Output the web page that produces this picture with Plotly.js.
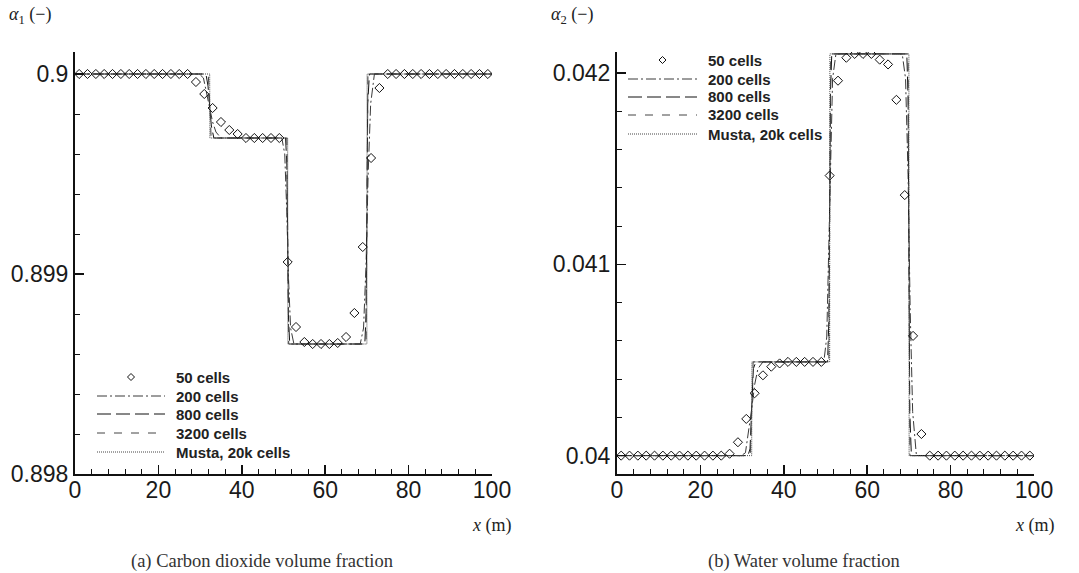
<!DOCTYPE html>
<html>
<head>
<meta charset="utf-8">
<script src="https://cdn.plot.ly/plotly-3.0.1.min.js"></script>
<style>html,body{margin:0;padding:0;background:#fff;}#chart{width:1079px;height:573px;}</style>
</head>
<body>
<div id="chart"></div>
<script>
// ---------------- data ----------------
const seriesNames = ["50 cells", "200 cells", "800 cells", "3200 cells", "Musta, 20k cells"];
const xTickVals = [0, 20, 40, 60, 80, 100];

// 50-cell cell centres
const x50 = [1,3,5,7,9,11,13,15,17,19,21,23,25,27,29,31,33,35,37,39,41,43,45,47,49,
             51,53,55,57,59,61,63,65,67,69,71,73,75,77,79,81,83,85,87,89,91,93,95,97,99];
// (a) carbon dioxide volume fraction, 50 cells
const a1_50 = [0.9,0.9,0.9,0.9,0.9,0.9,0.9,0.9,0.9,0.9,0.9,0.9,0.9,0.9,
               0.89996,0.8999,0.89983,0.89976,0.89972,0.8997,
               0.89968,0.89968,0.89968,0.89968,0.89968,
               0.89906,0.898735,0.89866,0.89865,0.89865,0.89865,0.898655,0.898685,0.898805,0.899135,0.89958,0.89993,
               0.9,0.9,0.9,0.9,0.9,0.9,0.9,0.9,0.9,0.9,0.9,0.9,0.9];
// (b) water volume fraction, 50 cells
const a2_50 = [0.04,0.04,0.04,0.04,0.04,0.04,0.04,0.04,0.04,0.04,0.04,0.04,0.04,
               0.04001,0.04007,0.040192,0.040326,0.04042,0.040465,0.040482,
               0.04049,0.04049,0.04049,0.04049,0.04049,
               0.041464,0.04196,0.04208,0.0421,0.0421,0.0421,0.04207,0.042045,0.04186,0.041362,0.040626,0.040113,
               0.04,0.04,0.04,0.04,0.04,0.04,0.04,0.04,0.04,0.04,0.04,0.04,0.04];

// 200 cells
const x200  = [0,29.8,30.8,31.6,32.3,33.0,33.8,35.0,49.6,50.3,50.8,51.2,51.7,52.5,68.4,69.2,69.8,70.3,70.9,71.8,100];
const a1_200 = [0.9,0.9,0.89998,0.8999,0.89984,0.89976,0.89971,0.89968,0.89968,0.8996,0.8993,0.89898,0.89873,0.89865,0.89865,0.89873,0.89905,0.8995,0.89985,0.9,0.9];
const a2_200 = [0.04,0.04,0.040015,0.04013,0.040245,0.04037,0.040455,0.04049,0.04049,0.04062,0.04109,0.0416,0.04197,0.0421,0.0421,0.04197,0.04147,0.04077,0.04023,0.04,0.04];

// 800 cells
const x800  = [0,31.4,31.9,32.3,32.7,33.3,50.5,50.8,51.0,51.2,51.5,69.5,69.8,70.0,70.2,70.6,100];
const a1_800 = [0.9,0.9,0.89994,0.89984,0.89974,0.89968,0.89968,0.89955,0.89916,0.89878,0.89865,0.89865,0.8988,0.89932,0.89985,0.9,0.9];
const a2_800 = [0.04,0.04,0.040035,0.040245,0.040455,0.04049,0.04049,0.0407,0.0413,0.0419,0.0421,0.0421,0.04187,0.04105,0.04023,0.04,0.04];

// 3200 cells
const x3200  = [0,31.95,32.2,32.45,32.65,50.8,50.95,51.1,51.25,69.8,69.95,70.1,70.25,100];
const a1_3200 = [0.9,0.9,0.89991,0.89977,0.89968,0.89968,0.89934,0.89899,0.89865,0.89865,0.8991,0.89955,0.9,0.9];
const a2_3200 = [0.04,0.04,0.040147,0.040343,0.04049,0.04049,0.04103,0.04156,0.0421,0.0421,0.0414,0.0407,0.04,0.04];

// Musta, 20k cells
const xMusta  = [0,32.3,32.35,51.0,51.05,70.0,70.05,100];
const a1_Musta = [0.9,0.9,0.89968,0.89968,0.89865,0.89865,0.9,0.9];
const a2_Musta = [0.04,0.04,0.04049,0.04049,0.0421,0.0421,0.04,0.04];

// ---------------- styling ----------------
const lineStyles = {
  "200 cells":        {color: "#3a3a3a", width: 1, dash: "10px,3px,2px,3px"},
  "800 cells":        {color: "#111", width: 1, dash: "14px,5px"},
  "3200 cells":       {color: "#444", width: 1, dash: "8px,9px"},
  "Musta, 20k cells": {color: "#444", width: 1, dash: "1px,1px"}
};
const markerStyle = {symbol: "diamond-open", size: 7, color: "#111", line: {width: 1, color: "#111"}};

function panel(xa, ya, y50, y200, y800, y3200, yMusta) {
  const lines = [
    [seriesNames[1], x200, y200],
    [seriesNames[2], x800, y800],
    [seriesNames[3], x3200, y3200],
    [seriesNames[4], xMusta, yMusta]
  ].map(([name, xs, ys]) => ({
    type: "scatter", mode: "lines", name: name, x: xs, y: ys,
    xaxis: xa, yaxis: ya, line: lineStyles[name], hoverinfo: "skip", showlegend: false
  }));
  const pts = {
    type: "scatter", mode: "markers", name: seriesNames[0], x: x50, y: y50,
    xaxis: xa, yaxis: ya, marker: markerStyle, hoverinfo: "skip", showlegend: false
  };
  return lines.concat([pts]);
}

const data = []
  .concat(panel("x", "y", a1_50, a1_200, a1_800, a1_3200, a1_Musta))
  .concat(panel("x2", "y2", a2_50, a2_200, a2_800, a2_3200, a2_Musta));

const W = 1079, H = 573;
const tickFont = {family: "Liberation Sans, Arial, sans-serif", size: 23, color: "#1a1a1a"};
function xAxis(left, right) {
  return {
    domain: [left / W, right / W], range: [0, 100], tickvals: xTickVals,
    ticks: "inside", ticklen: 9, tickwidth: 1.5, tickcolor: "#111",
    minor: {dtick: 4, tick0: 0, ticks: "inside", ticklen: 5, tickwidth: 1, tickcolor: "#111"},
    showline: true, linewidth: 2, linecolor: "#111", showgrid: false, zeroline: false,
    tickfont: tickFont, ticklabelstandoff: -6, fixedrange: true
  };
}
function yAxis(range, tick0, anchor) {
  return {
    domain: [(H - 474) / H, (H - 52) / H], range: range, tick0: tick0, dtick: 0.001,
    ticks: "inside", ticklen: 9, tickwidth: 1.5, tickcolor: "#111",
    minor: {dtick: 0.0002, tick0: tick0, ticks: "inside", ticklen: 5, tickwidth: 1, tickcolor: "#111"},
    showline: true, linewidth: 2, linecolor: "#111", showgrid: false, zeroline: false,
    tickfont: tickFont, anchor: anchor, fixedrange: true
  };
}

// ---------------- hand-made legends (one per panel) ----------------
const legendText = {family: "Liberation Sans, Arial, sans-serif", size: 15, color: "#222"};
const serif = "Liberation Serif, Times New Roman, serif";
const shapes = [];
const annotations = [];
function addLegend(sampleLeft, sampleRight, textLeft, rows) {
  const styles = [null, lineStyles["200 cells"], lineStyles["800 cells"], lineStyles["3200 cells"], lineStyles["Musta, 20k cells"]];
  seriesNames.forEach((name, i) => {
    const yp = 1 - rows[i] / H;
    if (i === 0) {
      const cx = (sampleLeft + sampleRight) / 2, dx = 3.5, dy = 3.5;
      shapes.push({type: "path", xref: "paper", yref: "paper",
        path: `M${(cx - dx) / W},${yp} L${cx / W},${yp + dy / H} L${(cx + dx) / W},${yp} L${cx / W},${yp - dy / H} Z`,
        line: {color: "#111", width: 1}, fillcolor: "rgba(0,0,0,0)"});
    } else {
      shapes.push({type: "line", xref: "paper", yref: "paper",
        x0: sampleLeft / W, x1: sampleRight / W, y0: yp, y1: yp, line: styles[i]});
    }
    annotations.push({text: "<b>" + name + "</b>", xref: "paper", yref: "paper",
      x: textLeft / W, y: yp, xanchor: "left", yanchor: "middle", showarrow: false, font: legendText});
  });
}
addLegend(97, 165, 174, [377, 396, 414, 433, 452]);
addLegend(628, 697, 706, [60, 79, 97, 115, 134]);

annotations.push(
  {text: "<i>α</i><sub>1</sub> (−)", xref: "paper", yref: "paper", x: 7 / W, y: 1 - 16 / H,
   xanchor: "left", yanchor: "middle", showarrow: false, font: {family: serif, size: 18, color: "#222"}},
  {text: "<i>α</i><sub>2</sub> (−)", xref: "paper", yref: "paper", x: 549 / W, y: 1 - 16 / H,
   xanchor: "left", yanchor: "middle", showarrow: false, font: {family: serif, size: 18, color: "#222"}},
  {text: "<i>x</i> (m)", xref: "paper", yref: "paper", x: 514 / W, y: 1 - 525 / H,
   xanchor: "right", yanchor: "middle", showarrow: false, font: {family: serif, size: 18, color: "#222"}},
  {text: "<i>x</i> (m)", xref: "paper", yref: "paper", x: 1057 / W, y: 1 - 525 / H,
   xanchor: "right", yanchor: "middle", showarrow: false, font: {family: serif, size: 18, color: "#222"}},
  {text: "(a) Carbon dioxide volume fraction", xref: "paper", yref: "paper", x: 262 / W, y: 1 - 561 / H,
   xanchor: "center", yanchor: "middle", showarrow: false, font: {family: serif, size: 18.5, color: "#333"}},
  {text: "(b) Water volume fraction", xref: "paper", yref: "paper", x: 804 / W, y: 1 - 561 / H,
   xanchor: "center", yanchor: "middle", showarrow: false, font: {family: serif, size: 18.5, color: "#333"}}
);

const layout = {
  width: W, height: H,
  margin: {l: 0, r: 0, t: 0, b: 0},
  paper_bgcolor: "#fff", plot_bgcolor: "#fff",
  showlegend: false,
  xaxis: Object.assign(xAxis(75, 492), {anchor: "y"}),
  yaxis: yAxis([0.898, 0.90011], 0.898, "x"),
  xaxis2: Object.assign(xAxis(617, 1034), {anchor: "y2"}),
  yaxis2: yAxis([0.039904, 0.04211], 0.04, "x2"),
  shapes: shapes,
  annotations: annotations
};

Plotly.newPlot("chart", data, layout, {staticPlot: true, displayModeBar: false});
</script>
</body>
</html>
